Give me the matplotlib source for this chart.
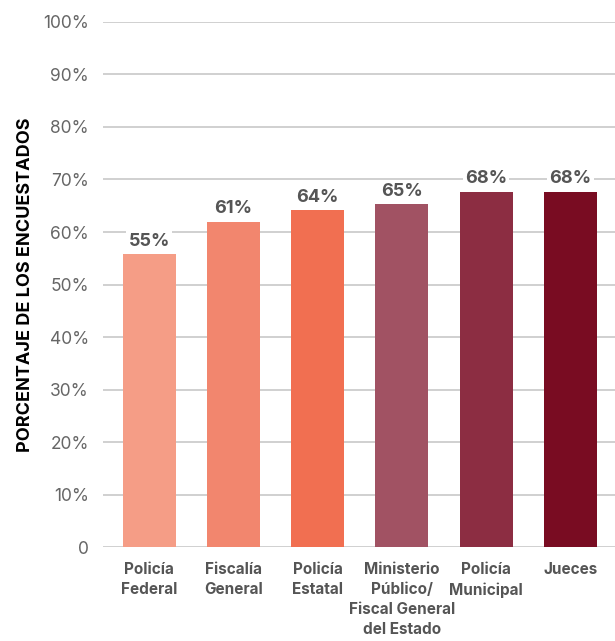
import numpy as np
import matplotlib.pyplot as plt

plt.rcParams['font.family'] = ['Inter', 'DejaVu Sans']

categorias = ['Policía\nFederal', 'Fiscalía\nGeneral', 'Policía\nEstatal',
              'Ministerio\nPúblico/\nFiscal General\ndel Estado',
              'Policía\nMunicipal', 'Jueces']
valores = [55.8, 62.0, 64.2, 65.3, 67.7, 67.7]
etiquetas = ['55%', '61%', '64%', '65%', '68%', '68%']
colores = ['#F59D86', '#F2866E', '#F16F51', '#A15263', '#8C2D42', '#790C22']
yticks = np.arange(0, 101, 10)
ytick_labels = ['0'] + ['%d%%' % v for v in yticks[1:]]

fig = plt.figure(figsize=(6.15, 6.41), dpi=100)
ax = fig.add_axes([0.1675, 0.1466, 0.8325, 0.8191])

x = np.arange(len(categorias))
ax.bar(x, valores, width=0.63, color=colores, zorder=3)

for i in range(len(x)):
    ax.text(x[i], valores[i] + 0.8, etiquetas[i], ha='center', va='bottom',
            fontsize=13, fontweight='bold', color='#555555', zorder=4,
            bbox=dict(facecolor='white', edgecolor='none', pad=1.5))

ax.set_ylim(0, 100)
ax.set_xlim(-0.55, 5.53)
ax.set_yticks(yticks)
ax.set_yticklabels(ytick_labels)
ax.set_xticks(x)
ax.set_xticklabels(categorias, fontsize=11, fontweight='bold', color='#555555',
                   linespacing=1.42, va='top')
ax.tick_params(axis='y', length=0, pad=10, labelsize=12.5, labelcolor='#666666')
ax.tick_params(axis='x', length=0, pad=11)
ax.grid(axis='y', color='#c8c8c8', linewidth=1.2, zorder=0)
for s in ax.spines.values():
    s.set_visible(False)

ax.set_ylabel('PORCENTAJE DE LOS ENCUESTADOS', fontsize=13, fontweight='bold',
              color='black', labelpad=7)

fig.savefig('out.png', dpi=100)
